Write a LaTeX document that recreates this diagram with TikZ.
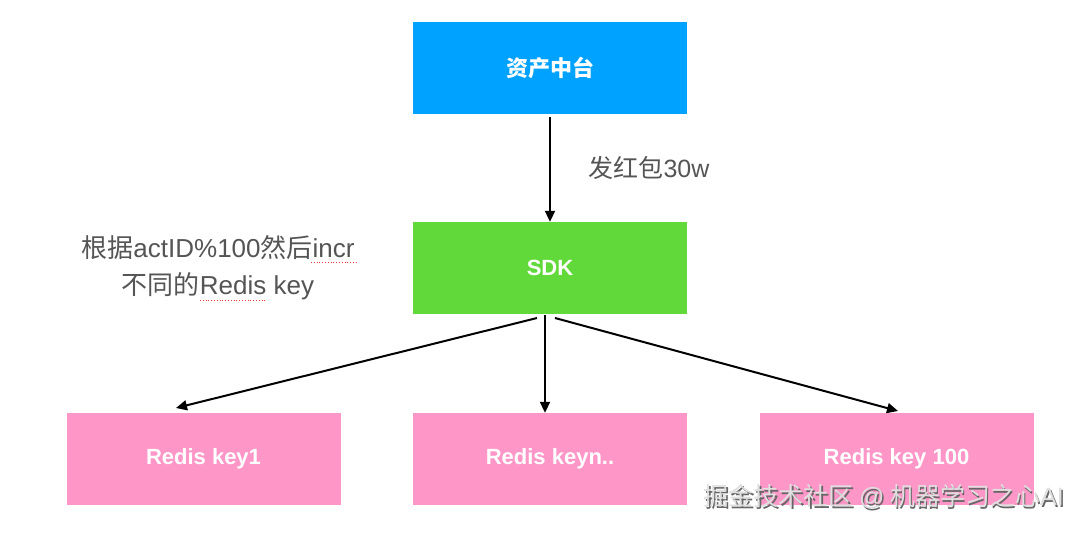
\documentclass[tikz,border=0pt]{standalone}
\usepackage{fontspec}
\setmainfont{Noto Sans CJK SC}
\newfontfamily\lat{Liberation Sans}
\usetikzlibrary{arrows.meta}
\definecolor{cblue}{RGB}{0,162,255}
\definecolor{cgreen}{RGB}{98,217,58}
\definecolor{cpink}{RGB}{255,150,200}
\definecolor{ctext}{RGB}{85,85,85}
\begin{document}
\begin{tikzpicture}[x=1pt,y=-1pt,
  box/.style={minimum width=274pt,minimum height=92pt,inner sep=0pt,text=white,font=\bfseries\fontsize{22}{24}\selectfont},
  arr/.style={line width=2pt,-{Triangle[length=11pt,width=10pt]}},
  lbl/.style={text=ctext,font=\fontsize{25}{32}\selectfont,align=center},
  spell/.style={red!80,dotted,line width=0.8pt}]
\useasboundingbox (0,0) rectangle (1080,533);
\fill[white] (0,0) rectangle (1080,533);
\node[box,fill=cblue] (top) at (550,68) {资产中台};
\node[box,fill=cgreen] (sdk) at (550,268) {\lat SDK};
\node[box,fill=cpink] (k1) at (203.5,459) {\lat Redis key1};
\node[box,fill=cpink] (kn) at (550,459) {\lat Redis keyn..};
\node[box,fill=cpink] (k100) at (896.5,459) {\lat Redis key 100};
\coordinate (sl) at (537,318);
\coordinate (sm) at (545,315);
\coordinate (sr) at (555,318);
\coordinate (e1) at (176,408);
\coordinate (e100) at (898,411);
\draw[arr] (550,117) -- (sdk.north -| 550,0);
\draw[arr] (sl) -- (e1);
\draw[arr] (sm) -- (sm |- kn.north);
\draw[arr] (sr) -- (e100);
\node[lbl,anchor=west] (send) at (585,168) {发红包{\lat 30w}};
\node[lbl,font=\fontsize{26}{37}\selectfont] (note) at (218,268) {根据{\lat actID\%100}然后{\lat incr}\\不同的{\lat Redis key}};
\draw[spell] (311,262) -- (357,262);
\draw[spell] (200,300) -- (266,300);
\node[text=black!60,font=\fontsize{25}{28}\selectfont,anchor=west] (wms) at (701.5,498.5) {掘金技术社区 {\lat @} 机器学习之心{\lat AI}};
\node[text=gray!25,font=\fontsize{25}{28}\selectfont,anchor=west] (wm) at (700,497) {掘金技术社区 {\lat @} 机器学习之心{\lat AI}};
\end{tikzpicture}
\end{document}
